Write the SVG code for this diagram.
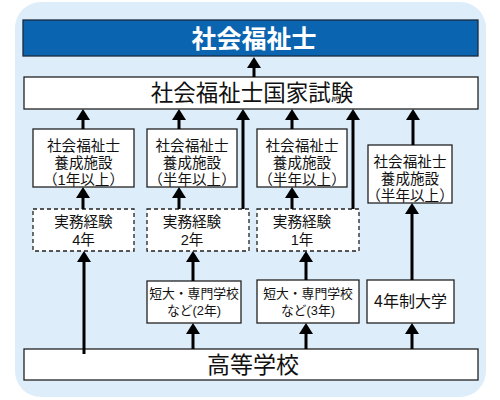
<svg xmlns="http://www.w3.org/2000/svg" width="500" height="400" viewBox="0 0 500 400">
<defs>
<marker id="ah" viewBox="0 0 11 14" refX="2" refY="7" markerWidth="11" markerHeight="14" markerUnits="userSpaceOnUse" orient="auto">
<path d="M0,0 L11,7 L0,14 Z" fill="#000"/>
</marker>
<style>
.bg{fill:#ddedfa}
.box{fill:#fff;stroke:#222;stroke-width:1.3}
.dash{fill:#fff;stroke:#222;stroke-width:1.3;stroke-dasharray:4 3}
.t{font-family:"Noto Sans CJK JP","Noto Sans",sans-serif;text-anchor:middle;fill:#111}
.m{font-family:"Liberation Sans","Noto Sans CJK JP",sans-serif}
.s14{font-size:14.6px}
.s13{font-size:12.8px}
.ah{stroke:#000;stroke-width:3;fill:none;marker-end:url(#ah)}
</style>
</defs>
<rect class="bg" x="15" y="2" width="471" height="395" rx="26"/>

<g id="title">
<rect x="23" y="20" width="455" height="36" fill="#0b64b0" stroke="#1a2a40" stroke-width="1.3"/>
<text class="t" x="254" y="48" font-size="25" font-weight="bold" style="fill:#fff">社会福祉士</text>
</g>
<g id="exam">
<rect class="box" x="24" y="77" width="454" height="32"/>
<text class="t" x="252" y="101" font-size="22.5">社会福祉士国家試験</text>
</g>

<g id="fac1">
<rect class="box" x="33" y="129" width="101" height="58"/>
<text class="t m s14" x="83.5" y="151"><tspan x="83.5">社会福祉士</tspan><tspan x="83.5" dy="17">養成施設</tspan><tspan x="83.5" dy="16.5">（1年以上）</tspan></text>
</g>
<g id="fac2">
<rect class="box" x="147" y="129" width="90" height="58"/>
<text class="t m s14" x="192" y="151"><tspan x="192">社会福祉士</tspan><tspan x="192" dy="17">養成施設</tspan><tspan x="192" dy="16.5">（半年以上）</tspan></text>
</g>
<g id="fac3">
<rect class="box" x="257" y="129" width="90" height="58"/>
<text class="t m s14" x="302" y="151"><tspan x="302">社会福祉士</tspan><tspan x="302" dy="17">養成施設</tspan><tspan x="302" dy="16.5">（半年以上）</tspan></text>
</g>
<g id="fac4">
<rect class="box" x="368" y="145" width="84" height="58"/>
<text class="t m s14" x="410" y="167"><tspan x="410">社会福祉士</tspan><tspan x="410" dy="17">養成施設</tspan><tspan x="410" dy="16.5">（半年以上）</tspan></text>
</g>

<g id="exp1">
<rect class="dash" x="33" y="209" width="101" height="42"/>
<text class="t m s14" x="83.5" y="227"><tspan x="83.5">実務経験</tspan><tspan x="83.5" dy="18">4年</tspan></text>
</g>
<g id="exp2">
<rect class="dash" x="147" y="209" width="102" height="42"/>
<text class="t m s14" x="192" y="227"><tspan x="192">実務経験</tspan><tspan x="192" dy="18">2年</tspan></text>
</g>
<g id="exp3">
<rect class="dash" x="257" y="209" width="102" height="42"/>
<text class="t m s14" x="302" y="227"><tspan x="302">実務経験</tspan><tspan x="302" dy="18">1年</tspan></text>
</g>

<g id="school2">
<rect class="box" x="147" y="281" width="94" height="42"/>
<text class="t m s13" x="194" y="298"><tspan x="194">短大・専門学校</tspan><tspan x="194" dy="17">など(2年)</tspan></text>
</g>
<g id="school3">
<rect class="box" x="257" y="280" width="102" height="43"/>
<text class="t m s13" x="308" y="298"><tspan x="308">短大・専門学校</tspan><tspan x="308" dy="17">など(3年)</tspan></text>
</g>
<g id="univ">
<rect class="box" x="367" y="280" width="87" height="43"/>
<text class="t" x="410.5" y="307" font-size="16">4年制大学</text>
</g>

<g id="highschool">
<rect class="box" x="24" y="349" width="454" height="31"/>
<text class="t" x="253" y="373" font-size="23">高等学校</text>
</g>

<g id="connectors">
<line class="ah" x1="254" y1="77" x2="254" y2="66"/>
<line class="ah" x1="83" y1="129" x2="83" y2="118"/>
<line class="ah" x1="179" y1="129" x2="179" y2="118"/>
<line class="ah" x1="243" y1="209" x2="243" y2="118"/>
<line class="ah" x1="292" y1="129" x2="292" y2="118"/>
<line class="ah" x1="353" y1="209" x2="353" y2="118"/>
<line class="ah" x1="413" y1="145" x2="413" y2="118"/>
<line class="ah" x1="83" y1="209" x2="83" y2="196"/>
<line class="ah" x1="179" y1="209" x2="179" y2="196"/>
<line class="ah" x1="292" y1="209" x2="292" y2="196"/>
<line class="ah" x1="84" y1="354" x2="84" y2="260"/>
<line class="ah" x1="193" y1="281" x2="193" y2="260"/>
<line class="ah" x1="193" y1="349" x2="193" y2="332"/>
<line class="ah" x1="306" y1="280" x2="306" y2="260"/>
<line class="ah" x1="306" y1="349" x2="306" y2="332"/>
<line class="ah" x1="412" y1="349" x2="412" y2="332"/>
<line class="ah" x1="412" y1="280" x2="412" y2="212"/>
</g>
</svg>
